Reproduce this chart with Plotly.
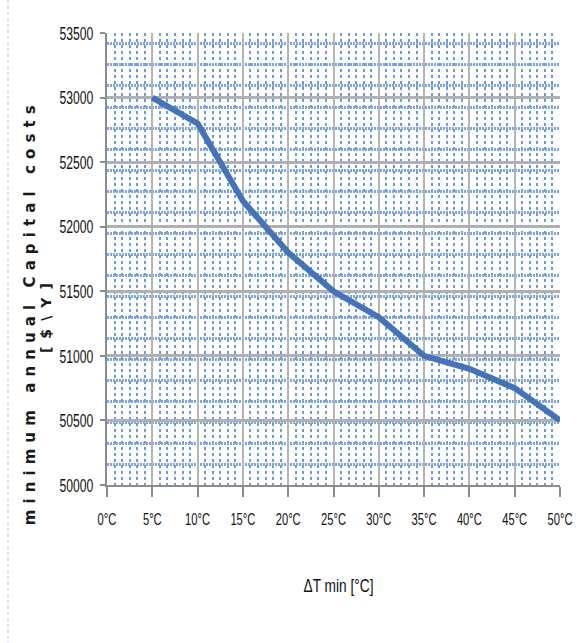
import plotly.graph_objects as go

# data
delta_t = [5, 10, 15, 20, 25, 30, 35, 40, 45, 50]
capital_costs = [53000, 52800, 52200, 51800, 51500, 51300, 51000, 50900, 50750, 50500]
x_ticks = [0, 5, 10, 15, 20, 25, 30, 35, 40, 45, 50]
x_tick_labels = [f"{v}°C" for v in x_ticks]
y_ticks = [50000, 50500, 51000, 51500, 52000, 52500, 53000, 53500]

FONT = "Liberation Sans, Arial, sans-serif"

fig = go.Figure()
fig.add_trace(go.Scatter(
    x=delta_t, y=capital_costs, mode="lines",
    line=dict(color="#4474b7", width=6),
    showlegend=False, hoverinfo="skip",
))

fig.update_layout(
    width=582, height=643, autosize=False,
    margin=dict(l=107, r=22, t=33, b=158),
    paper_bgcolor="white", plot_bgcolor="white",
    xaxis=dict(
        automargin=False,
        range=[0, 50], tickmode="array", tickvals=x_ticks, ticktext=x_tick_labels,
        showgrid=True, gridcolor="#b5b5b5", gridwidth=2,
        showline=True, linecolor="#8c8c8c", linewidth=2,
        ticks="outside", ticklen=10, tickcolor="#8c8c8c", tickwidth=1.5,
        ticklabelstandoff=9,
        tickfont=dict(family=FONT, size=16, color="#111111"),
        zeroline=False,
        minor=dict(dtick=5/6, tick0=0, showgrid=True, gridcolor="#6e9bd8",
                   gridwidth=1.5, griddash="3px,3px"),
    ),
    yaxis=dict(
        automargin=False,
        range=[50000, 53500], tickmode="array", tickvals=y_ticks,
        ticktext=[str(v) for v in y_ticks],
        showgrid=True, gridcolor="#b0b0b0", gridwidth=3,
        showline=True, linecolor="#8c8c8c", linewidth=2,
        ticks="outside", ticklen=5, tickcolor="#8c8c8c", tickwidth=1.5,
        ticklabelstandoff=3,
        tickfont=dict(family=FONT, size=19, color="#111111"),
        zeroline=False,
        minor=dict(dtick=163, tick0=50156, showgrid=True, gridcolor="#7ea6dc",
                   gridwidth=2.5, griddash="2px,1px"),
    ),
    annotations=[
        dict(text="ΔT min [°C]", x=(338 - 107) / 453, y=(485 - 585) / 452,
             xref="paper", yref="paper", showarrow=False,
             xanchor="center", yanchor="middle",
             font=dict(family=FONT, size=19, color="#111111")),
        dict(text="<b>minimum annual Capital costs</b>",
             x=(30 - 107) / 453, y=(485 - 316) / 452, xref="paper", yref="paper",
             showarrow=False, textangle=-90, xanchor="center", yanchor="middle",
             font=dict(family="DejaVu Sans", size=15, color="#1a1a1a")),
        dict(text="<b>[$\\Y]</b>",
             x=(46 - 107) / 453, y=(485 - 318) / 452, xref="paper", yref="paper",
             showarrow=False, textangle=-90, xanchor="center", yanchor="middle",
             font=dict(family="DejaVu Sans", size=14, color="#1a1a1a")),
    ],
    shapes=[
        dict(type="line", xref="paper", yref="paper",
             x0=(8 - 107) / 453, x1=(8 - 107) / 453, y0=(485 - 0) / 452, y1=(485 - 643) / 452,
             line=dict(color="#a9c4e6", width=1, dash="dot")),
    ],
)

post = """
document.documentElement.style.margin = '0';
document.body.style.margin = '0';
document.body.style.overflow = 'hidden';
var gd = document.getElementById('{plot_id}');
function squeeze(sel, factor) {
  gd.querySelectorAll(sel).forEach(function(t){
    var L = t.getComputedTextLength();
    t.setAttribute('textLength', (L*factor).toFixed(1));
    t.setAttribute('lengthAdjust', 'spacingAndGlyphs');
  });
}
function fitTo(sel, len, mode) {
  gd.querySelectorAll(sel).forEach(function(t){
    t.setAttribute('textLength', len);
    t.setAttribute('lengthAdjust', mode);
  });
}
squeeze('.xtick text', 0.7);
squeeze('.ytick text', 0.64);
squeeze('g.annotation[data-index="0"] text', 0.72);
fitTo('g.annotation[data-index="1"] text', 420, 'spacing');
fitTo('g.annotation[data-index="2"] text', 70, 'spacing');
"""

fig.write_html("out.html", post_script=post,
               config={"displayModeBar": False, "responsive": False})
